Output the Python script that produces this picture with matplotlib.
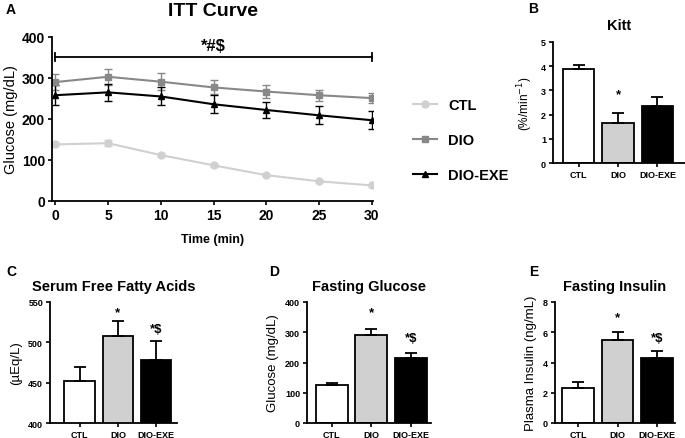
import matplotlib
matplotlib.use("Agg")
import matplotlib.pyplot as plt
from matplotlib.lines import Line2D
import numpy as np

plt.rcParams['font.family'] = ['Liberation Sans', 'DejaVu Sans']

# ---- Data ----
time_min = [0, 5, 10, 15, 20, 25, 30]
ctl_glu = [138, 141, 112, 87, 63, 48, 38]
ctl_err = [5, 8, 5, 4, 3, 3, 3]
dio_glu = [290, 303, 291, 277, 267, 258, 251]
dio_err = [20, 20, 20, 17, 15, 13, 13]
exe_glu = [258, 265, 255, 236, 222, 209, 197]
exe_err = [25, 20, 22, 22, 20, 22, 22]

groups = ['CTL', 'DIO', 'DIO-EXE']
kitt = [3.9, 1.65, 2.35]
kitt_err = [0.13, 0.4, 0.37]
ffa = [452, 508, 478]
ffa_err = [17, 18, 24]
fglu = [127, 290, 215]
fglu_err = [5, 20, 15]
fins = [2.3, 5.5, 4.3]
fins_err = [0.42, 0.5, 0.47]

W, H = 685, 439
fig = plt.figure(figsize=(W / 100, H / 100), dpi=100)

def ax_px(x0, x1, ytop, ybot):
    return fig.add_axes([x0 / W, 1 - ybot / H, (x1 - x0) / W, (ybot - ytop) / H])

grey_l = '#d0d0d0'
grey_m = '#888888'

def style(ax, tsize=7):
    for s in ['top', 'right']:
        ax.spines[s].set_visible(False)
    for s in ['left', 'bottom']:
        ax.spines[s].set_linewidth(1.3)
    ax.tick_params(width=1.2, length=3, labelsize=tsize, pad=2)
    for lab in ax.get_xticklabels() + ax.get_yticklabels():
        lab.set_fontweight('bold')

# ---- Panel A ----
axA = ax_px(52, 373, 38, 202)
series = [(ctl_glu, ctl_err, grey_l, 'o', 'CTL'),
          (dio_glu, dio_err, grey_m, 's', 'DIO'),
          (exe_glu, exe_err, 'black', '^', 'DIO-EXE')]
handles = []
for vals, errs, c, m, lab in series:
    axA.errorbar(time_min, vals, yerr=errs, color=c, marker=m, ms=5,
                 lw=1.5, capsize=3, elinewidth=1)
    handles.append(Line2D([], [], color=c, marker=m, ms=5, lw=1.5, label=lab))
axA.set_xlim(-0.3, 30.1)
axA.set_ylim(0, 400)
axA.set_xticks(time_min)
axA.set_yticks([0, 100, 200, 300, 400])
axA.set_ylabel('Glucose (mg/dL)', fontsize=10.5, labelpad=3)
axA.set_xlabel('Time (min)', fontsize=9, fontweight='bold', labelpad=8)
style(axA, 10)
axA.plot([0, 30], [352, 352], color='black', lw=1.3)
axA.plot([0, 0], [342, 362], color='black', lw=1.3)
axA.plot([30, 30], [342, 362], color='black', lw=1.3)
axA.text(15, 362, '*#$', ha='center', va='bottom', fontsize=12, fontweight='bold')
axA.set_title('ITT Curve', fontsize=14, fontweight='bold', pad=16)
leg = axA.legend(handles=handles, loc='center left', bbox_to_anchor=(1.085, 0.37),
                 frameon=False, fontsize=10.5, labelspacing=1.45, handlelength=1.6,
                 handletextpad=0.8)
for t in leg.get_texts():
    t.set_fontweight('bold')
fig.text(6 / W, 1 - 10 / H, 'A', fontsize=10, fontweight='bold', va='center')

# ---- Bar panels ----
colors = ['white', grey_l, 'black']
x = np.arange(3)

def bar_panel(axb, vals, errs, ylim, yticks, ylabel, title, stars, star_y, xlim):
    axb.bar(x, vals, width=0.8, color=colors, edgecolor='black', linewidth=1.3, zorder=2)
    for xi, v, e in zip(x, vals, errs):
        axb.errorbar(xi, v, yerr=[[0], [e]], color='black', capsize=4, elinewidth=1.3,
                     capthick=1.3, zorder=3)
    axb.set_xlim(*xlim)
    axb.set_ylim(*ylim)
    axb.set_yticks(yticks)
    axb.set_xticks(x)
    axb.set_xticklabels(groups)
    axb.tick_params(axis='x', length=0)
    axb.set_ylabel(ylabel, fontsize=9.5, labelpad=4)
    style(axb, 6.5)
    for xi, s, sy in zip(x, stars, star_y):
        if s:
            axb.text(xi, sy, s, ha='center', va='center', fontsize=9.5, fontweight='bold')
    axb.set_title(title, fontsize=10.5, fontweight='bold', pad=9)

axB = ax_px(553, 685, 43, 164)
bar_panel(axB, kitt, kitt_err, (0, 5), [0, 1, 2, 3, 4, 5], '(%/min$^{-1}$)', 'Kitt',
          ['', '*', ''], [0, 2.85, 0], (-0.65, 2.7))
axB.yaxis.label.set_size(8.5)
fig.text(528 / W, 1 - 9 / H, 'B', fontsize=10, fontweight='bold', va='center')

axC = ax_px(50, 177, 303, 424)
bar_panel(axC, ffa, ffa_err, (400, 550), [400, 450, 500, 550], '(µEq/L)',
          'Serum Free Fatty Acids', ['', '*', '*$'], [0, 538, 517], (-0.78, 2.55))
fig.text(6 / W, 1 - 272 / H, 'C', fontsize=10, fontweight='bold', va='center')

axD = ax_px(307, 431, 303, 424)
bar_panel(axD, fglu, fglu_err, (0, 400), [0, 100, 200, 300, 400], 'Glucose (mg/dL)',
          'Fasting Glucose', ['', '*', '*$'], [0, 365, 282], (-0.62, 2.5))
fig.text(269 / W, 1 - 272 / H, 'D', fontsize=10, fontweight='bold', va='center')

axE = ax_px(555, 675, 303, 424)
bar_panel(axE, fins, fins_err, (0, 8), [0, 2, 4, 6, 8], 'Plasma Insulin (ng/mL)',
          'Fasting Insulin', ['', '*', '*$'], [0, 7.0, 5.6], (-0.58, 2.45))
fig.text(529 / W, 1 - 272 / H, 'E', fontsize=10, fontweight='bold', va='center')

fig.savefig('out.png', dpi=100)
